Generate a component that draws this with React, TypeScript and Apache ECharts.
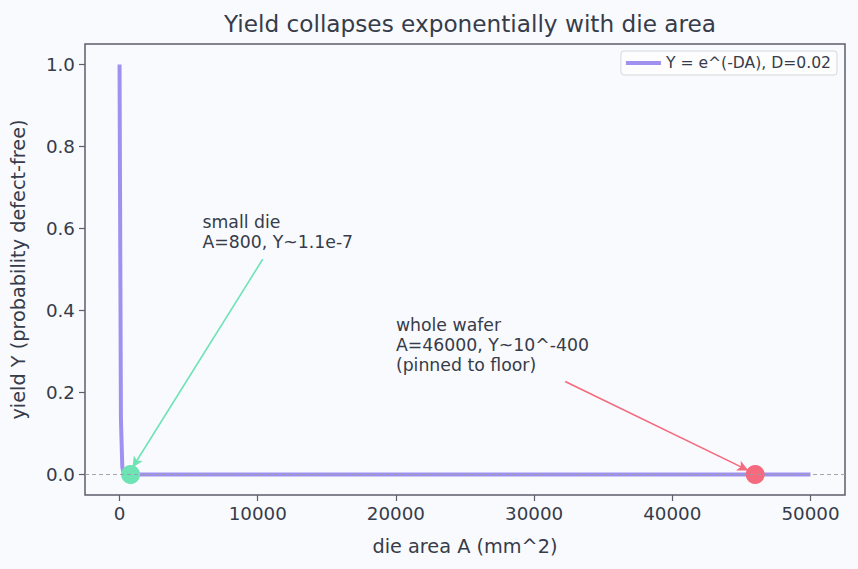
import React, { useEffect, useRef } from "react";
import * as echarts from "echarts";

// Yield curve samples Y = e^(-D*A), D = 0.02 (floored to 0 beyond ~500 mm^2)
const areaSamples = [0, 100, 200, 300, 400, 500, 1000, 10000, 20000, 30000, 40000, 50000];
const yieldSamples = [1.0, 0.135, 0.018, 0.0025, 0.0003, 0.00005, 0, 0, 0, 0, 0, 0];

// Highlighted dies
const smallDie = [800, 0];
const wholeWafer = [46000, 0];

// Annotation anchors (data coordinates)
const smallDieText = [6000, 0.542];
const smallDieArrow = [[10360, 0.525], [940, 0.017]];
const waferText = [20000, 0.242];
const waferArrow = [[32250, 0.227], [45500, 0.01]];

const xTicks = [0, 10000, 20000, 30000, 40000, 50000];
const yTicks = [0, 0.2, 0.4, 0.6, 0.8, 1.0];

const FONT = "DejaVu Sans";
const TEXT = "#363c4a";
const SPINE = "#5b5f6c";
const PURPLE = "#a091f0";
const GREEN = "#6ee3b4";
const RED = "#f56a7e";

export default function App() {
  const ref = useRef<HTMLDivElement>(null);

  useEffect(() => {
    if (!ref.current) return;
    const chart = echarts.init(ref.current, null, { renderer: "svg" });
    chart.setOption({
      animation: false,
      backgroundColor: "#f9fafd",
      textStyle: { fontFamily: FONT, color: TEXT },
      title: {
        text: "Yield collapses exponentially with die area",
        left: 465,
        textAlign: "center",
        top: 7,
        textStyle: { fontFamily: FONT, fontSize: 23.2, fontWeight: "normal", color: TEXT },
      },
      legend: {
        top: 51,
        right: 21,
        padding: [4, 6, 4, 5],
        backgroundColor: "#fdfdfe",
        borderColor: "#d4d6dc",
        borderWidth: 1,
        borderRadius: 3,
        itemWidth: 35,
        itemHeight: 4,
        itemGap: 6,
        icon: "rect",
        data: ["Y = e^(-DA), D=0.02"],
        textStyle: { fontFamily: FONT, fontSize: 15.6, color: TEXT },
      },
      grid: {
        left: 85,
        right: 13,
        top: 44,
        bottom: 74,
        outerBoundsMode: "none",
        containLabel: false,
        show: true,
        borderColor: SPINE,
        borderWidth: 1.5,
        backgroundColor: "transparent",
      },
      xAxis: {
        type: "value",
        min: -2500,
        max: 52500,
        name: "die area A (mm^2)",
        nameLocation: "middle",
        nameGap: 42,
        nameTextStyle: { fontFamily: FONT, fontSize: 19.3, color: TEXT },
        axisLine: { show: false, onZero: false },
        splitLine: { show: false },
        axisTick: { show: true, length: 6, customValues: xTicks, lineStyle: { color: SPINE, width: 1.2 } },
        axisLabel: {
          customValues: xTicks,
          fontFamily: FONT,
          fontSize: 18.3,
          color: TEXT,
          margin: 9,
          formatter: (v: number) => String(v),
        },
      },
      yAxis: {
        type: "value",
        min: -0.05,
        max: 1.05,
        name: "yield Y (probability defect-free)",
        nameLocation: "middle",
        nameGap: 57,
        nameRotate: 90,
        nameTextStyle: { fontFamily: FONT, fontSize: 19.3, color: TEXT },
        axisLine: { show: false, onZero: false },
        splitLine: { show: false },
        axisTick: { show: true, length: 6, customValues: yTicks, lineStyle: { color: SPINE, width: 1.2 } },
        axisLabel: {
          customValues: yTicks,
          fontFamily: FONT,
          fontSize: 18.3,
          color: TEXT,
          margin: 10,
          formatter: (v: number) => v.toFixed(1),
        },
      },
      series: [
        {
          name: "Y = e^(-DA), D=0.02",
          type: "line",
          data: areaSamples.map((a, i) => [a, yieldSamples[i]]),
          showSymbol: false,
          symbol: "none",
          lineStyle: { color: PURPLE, width: 4, join: "round" },
          itemStyle: { color: PURPLE },
          z: 2,
        },
        {
          name: "floor",
          type: "line",
          data: [[-2500, 0], [52500, 0]],
          symbol: "none",
          lineStyle: { color: "#9a9ca3", width: 0.9, type: [4, 3] },
          z: 6,
          silent: true,
        },
        {
          name: "small die",
          type: "scatter",
          data: [smallDie],
          symbolSize: 19,
          itemStyle: { color: GREEN, opacity: 1 },
          z: 4,
        },
        {
          name: "whole wafer",
          type: "scatter",
          data: [wholeWafer],
          symbolSize: 19,
          itemStyle: { color: RED, opacity: 1 },
          z: 4,
        },
        {
          name: "arrows",
          type: "line",
          data: [],
          markLine: {
            silent: true,
            animation: false,
            symbol: ["none", "arrow"],
            symbolSize: [8, 11],
            label: { show: false },
            data: [
              [
                { coord: smallDieArrow[0], lineStyle: { color: GREEN, width: 1.6, type: "solid" }, itemStyle: { color: GREEN } },
                { coord: smallDieArrow[1] },
              ],
              [
                { coord: waferArrow[0], lineStyle: { color: RED, width: 1.6, type: "solid" }, itemStyle: { color: RED } },
                { coord: waferArrow[1] },
              ],
            ],
          },
          z: 5,
        },
        {
          name: "labels",
          type: "scatter",
          symbolSize: 0,
          silent: true,
          itemStyle: { opacity: 1 },
          data: [
            { value: smallDieText, label: { formatter: "small die\nA=800, Y~1.1e-7" } },
            { value: waferText, label: { formatter: "whole wafer\nA=46000, Y~10^-400\n(pinned to floor)" } },
          ],
          label: {
            show: true,
            position: [0, 0],
            align: "left",
            verticalAlign: "bottom",
            fontFamily: FONT,
            fontSize: 17.3,
            lineHeight: 20,
            color: TEXT,
            opacity: 1,
          },
          z: 7,
        },
      ],
    });
    return () => chart.dispose();
  }, []);

  return (
    <div
      ref={ref}
      style={{ position: "fixed", left: 0, top: 0, width: 858, height: 569 }}
    />
  );
}
